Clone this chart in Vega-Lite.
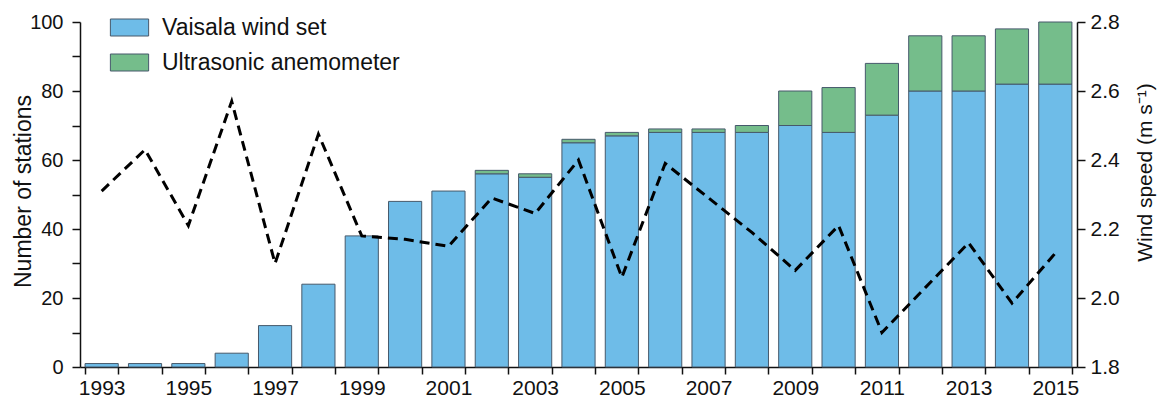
{
  "$schema": "https://vega.github.io/schema/vega-lite/v6.json",
  "width": 997,
  "height": 345,
  "autosize": {"type": "none"},
  "padding": {"left": 80, "top": 22, "right": 84, "bottom": 34},
  "background": "white",
  "config": {
    "view": {"stroke": null},
    "font": "Liberation Sans",
    "axis": {
      "domainColor": "#111111",
      "domainWidth": 1.5,
      "tickColor": "#111111",
      "tickWidth": 1.5,
      "labelColor": "#111111",
      "titleColor": "#111111",
      "labelFont": "Liberation Sans",
      "titleFont": "Liberation Sans",
      "titleFontWeight": "normal",
      "grid": false
    }
  },
  "datasets": {
    "stations": [
      {"year": 1993, "type": "Vaisala wind set", "count": 1},
      {"year": 1994, "type": "Vaisala wind set", "count": 1},
      {"year": 1995, "type": "Vaisala wind set", "count": 1},
      {"year": 1996, "type": "Vaisala wind set", "count": 4},
      {"year": 1997, "type": "Vaisala wind set", "count": 12},
      {"year": 1998, "type": "Vaisala wind set", "count": 24},
      {"year": 1999, "type": "Vaisala wind set", "count": 38},
      {"year": 2000, "type": "Vaisala wind set", "count": 48},
      {"year": 2001, "type": "Vaisala wind set", "count": 51},
      {"year": 2002, "type": "Vaisala wind set", "count": 56},
      {"year": 2002, "type": "Ultrasonic anemometer", "count": 1},
      {"year": 2003, "type": "Vaisala wind set", "count": 55},
      {"year": 2003, "type": "Ultrasonic anemometer", "count": 1},
      {"year": 2004, "type": "Vaisala wind set", "count": 65},
      {"year": 2004, "type": "Ultrasonic anemometer", "count": 1},
      {"year": 2005, "type": "Vaisala wind set", "count": 67},
      {"year": 2005, "type": "Ultrasonic anemometer", "count": 1},
      {"year": 2006, "type": "Vaisala wind set", "count": 68},
      {"year": 2006, "type": "Ultrasonic anemometer", "count": 1},
      {"year": 2007, "type": "Vaisala wind set", "count": 68},
      {"year": 2007, "type": "Ultrasonic anemometer", "count": 1},
      {"year": 2008, "type": "Vaisala wind set", "count": 68},
      {"year": 2008, "type": "Ultrasonic anemometer", "count": 2},
      {"year": 2009, "type": "Vaisala wind set", "count": 70},
      {"year": 2009, "type": "Ultrasonic anemometer", "count": 10},
      {"year": 2010, "type": "Vaisala wind set", "count": 68},
      {"year": 2010, "type": "Ultrasonic anemometer", "count": 13},
      {"year": 2011, "type": "Vaisala wind set", "count": 73},
      {"year": 2011, "type": "Ultrasonic anemometer", "count": 15},
      {"year": 2012, "type": "Vaisala wind set", "count": 80},
      {"year": 2012, "type": "Ultrasonic anemometer", "count": 16},
      {"year": 2013, "type": "Vaisala wind set", "count": 80},
      {"year": 2013, "type": "Ultrasonic anemometer", "count": 16},
      {"year": 2014, "type": "Vaisala wind set", "count": 82},
      {"year": 2014, "type": "Ultrasonic anemometer", "count": 16},
      {"year": 2015, "type": "Vaisala wind set", "count": 82},
      {"year": 2015, "type": "Ultrasonic anemometer", "count": 18}
    ],
    "wind": [
      {"year": 1993, "speed": 2.31},
      {"year": 1994, "speed": 2.43},
      {"year": 1995, "speed": 2.21},
      {"year": 1996, "speed": 2.57},
      {"year": 1997, "speed": 2.10},
      {"year": 1998, "speed": 2.475},
      {"year": 1999, "speed": 2.18},
      {"year": 2000, "speed": 2.17},
      {"year": 2001, "speed": 2.15},
      {"year": 2002, "speed": 2.29},
      {"year": 2003, "speed": 2.245},
      {"year": 2004, "speed": 2.40},
      {"year": 2005, "speed": 2.06},
      {"year": 2006, "speed": 2.39},
      {"year": 2007, "speed": 2.29},
      {"year": 2008, "speed": 2.19},
      {"year": 2009, "speed": 2.08},
      {"year": 2010, "speed": 2.21},
      {"year": 2011, "speed": 1.90},
      {"year": 2012, "speed": 2.03},
      {"year": 2013, "speed": 2.16},
      {"year": 2014, "speed": 1.985},
      {"year": 2015, "speed": 2.13}
    ]
  },
  "layer": [
    {
      "data": {"name": "stations"},
      "mark": {"type": "bar", "stroke": "#46596b", "strokeWidth": 1},
      "encoding": {
        "x": {
          "field": "year",
          "type": "ordinal",
          "scale": {"paddingInner": 0.235, "paddingOuter": 0.1175},
          "axis": {
            "title": null,
            "labelAngle": 0,
            "tickBand": "extent",
            "tickSize": 7,
            "labelPadding": 3,
            "labelFontSize": 21,
            "labelExpr": "datum.value % 2 === 1 ? datum.label : ''"
          }
        },
        "y": {
          "field": "count",
          "type": "quantitative",
          "stack": "zero",
          "scale": {"domain": [0, 100], "nice": false},
          "axis": {
            "title": "Number of stations",
            "values": [0, 10, 20, 30, 40, 50, 60, 70, 80, 90, 100],
            "labelExpr": "datum.value % 20 === 0 ? datum.label : ''",
            "tickSize": 8,
            "labelPadding": 9,
            "labelFontSize": 20,
            "titleFontSize": 23,
            "titleX": -57,
            "titleY": 169,
            "titleAngle": 270,
            "titleAlign": "center",
            "titleBaseline": "middle"
          }
        },
        "color": {
          "field": "type",
          "type": "nominal",
          "scale": {
            "domain": ["Vaisala wind set", "Ultrasonic anemometer"],
            "range": ["#6ebce8", "#75bd8b"]
          },
          "legend": {
            "title": null,
            "orient": "none",
            "legendX": 38,
            "legendY": -6,
            "symbolType": "M-2.25,-1H2.25V1H-2.25Z",
            "symbolSize": 289,
            "symbolStrokeColor": "#46596b",
            "symbolStrokeWidth": 1,
            "labelFontSize": 23,
            "labelColor": "#111111",
            "labelFont": "Liberation Sans",
            "labelOffset": 21,
            "labelLimit": 500,
            "rowPadding": 11
          }
        },
        "order": {"field": "type", "sort": "descending"}
      }
    },
    {
      "data": {"name": "wind"},
      "mark": {"type": "line", "color": "#000000", "strokeWidth": 3, "strokeDash": [10, 6]},
      "encoding": {
        "x": {"field": "year", "type": "ordinal"},
        "y": {
          "field": "speed",
          "type": "quantitative",
          "scale": {"domain": [1.8, 2.8], "nice": false, "zero": false},
          "axis": {
            "orient": "right",
            "title": "Wind speed (m s⁻¹)",
            "values": [1.8, 2.0, 2.2, 2.4, 2.6, 2.8],
            "format": ".1f",
            "tickSize": 8,
            "labelPadding": 5,
            "labelFontSize": 21,
            "titleFontSize": 21,
            "titleAngle": 270,
            "titleX": 68,
            "titleY": 150,
            "titleAlign": "center",
            "titleBaseline": "middle"
          }
        }
      }
    }
  ],
  "resolve": {"scale": {"y": "independent"}}
}
